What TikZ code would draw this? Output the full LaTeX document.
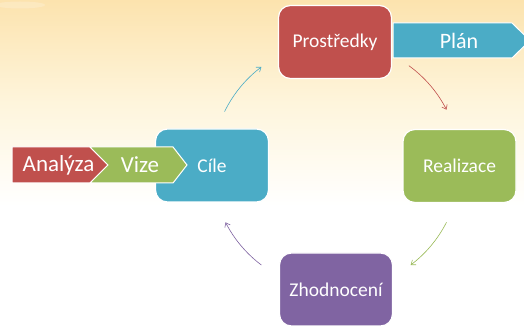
\documentclass[tikz,border=0pt]{standalone}
\usepackage{fontspec}
\setmainfont{Carlito}
\usetikzlibrary{arrows.meta,calc}
\definecolor{cred}{HTML}{C0504D}
\definecolor{cgreen}{HTML}{9BBB59}
\definecolor{ccyan}{HTML}{4BACC6}
\definecolor{cpurple}{HTML}{8064A2}
\definecolor{bgtop}{HTML}{FCE3AE}
\definecolor{bgmid}{HTML}{FEF5DC}
\tikzset{
  box/.style={draw=white,line width=1.2pt,rounded corners=12pt,minimum width=113pt,minimum height=73pt,text=white,font=\fontsize{19.5}{22}\selectfont,inner sep=0pt},
  chev/.style={draw=white,line width=1pt,line join=miter},
  chevtext/.style={text=white,font=\fontsize{23}{26}\selectfont,inner sep=0pt},
  cyc/.style={line width=0.6pt,-{Straight Barb[length=4pt,width=6pt]}}
}
\begin{document}
\begin{tikzpicture}[x=1pt,y=1pt]
\useasboundingbox (0,0) rectangle (524,326);
% background
\fill[white] (0,0) rectangle (524,326);
\shade[top color=bgtop,bottom color=white,middle color=bgmid] (0,120) rectangle (524,326);
\fill[white,opacity=0.2] (20,321) ellipse (25 and 3.5);
% cycle boxes
\node[box,fill=cred] (pro) at (335,284) {Prostředky};
\node[box,fill=cgreen] (rea) at (459.5,160) {Realizace};
\node[box,fill=cpurple] (zho) at (336,36.5) {Zhodnocení};
\node[box,fill=ccyan] (cil) at (212,160.5) {};
% chevrons
\fill[chev,fill=cred] (12,179) -- (90,179) -- (108,161) -- (90,143) -- (12,143) -- cycle;
\fill[chev,fill=cgreen] (90,179) -- (173,179) -- (187,161) -- (173,143) -- (90,143) -- (108,161) -- cycle;
\fill[chev,fill=ccyan] (393,303) -- (512,303) -- (530,285.5) -- (512,268) -- (393,268) -- cycle;
\node[chevtext] (ana) at (58.5,161) {Analýza};
\node[chevtext] (viz) at (140,161) {Vize};
\node[chevtext,font=\fontsize{22}{25}\selectfont] (pla) at (459,285.5) {Plán};
\node[text=white,font=\fontsize{19.5}{22}\selectfont,inner sep=0pt] (cilt) at (212,160.5) {Cíle};
% cycle arcs
\coordinate (c) at (336,160);
\coordinate (a1) at ($(c)+(154:124)$);
\coordinate (a2) at ($(c)+(54:124)$);
\coordinate (a3) at ($(c)+(-27:124)$);
\coordinate (a4) at ($(c)+(233:124)$);
\draw[cyc,ccyan] (a1) arc[start angle=154,end angle=127,radius=124];
\draw[cyc,cred] (a2) arc[start angle=54,end angle=27,radius=124];
\draw[cyc,cgreen] (a3) arc[start angle=-27,end angle=-53,radius=124];
\draw[cyc,cpurple] (a4) arc[start angle=233,end angle=207,radius=124];
\end{tikzpicture}
\end{document}
